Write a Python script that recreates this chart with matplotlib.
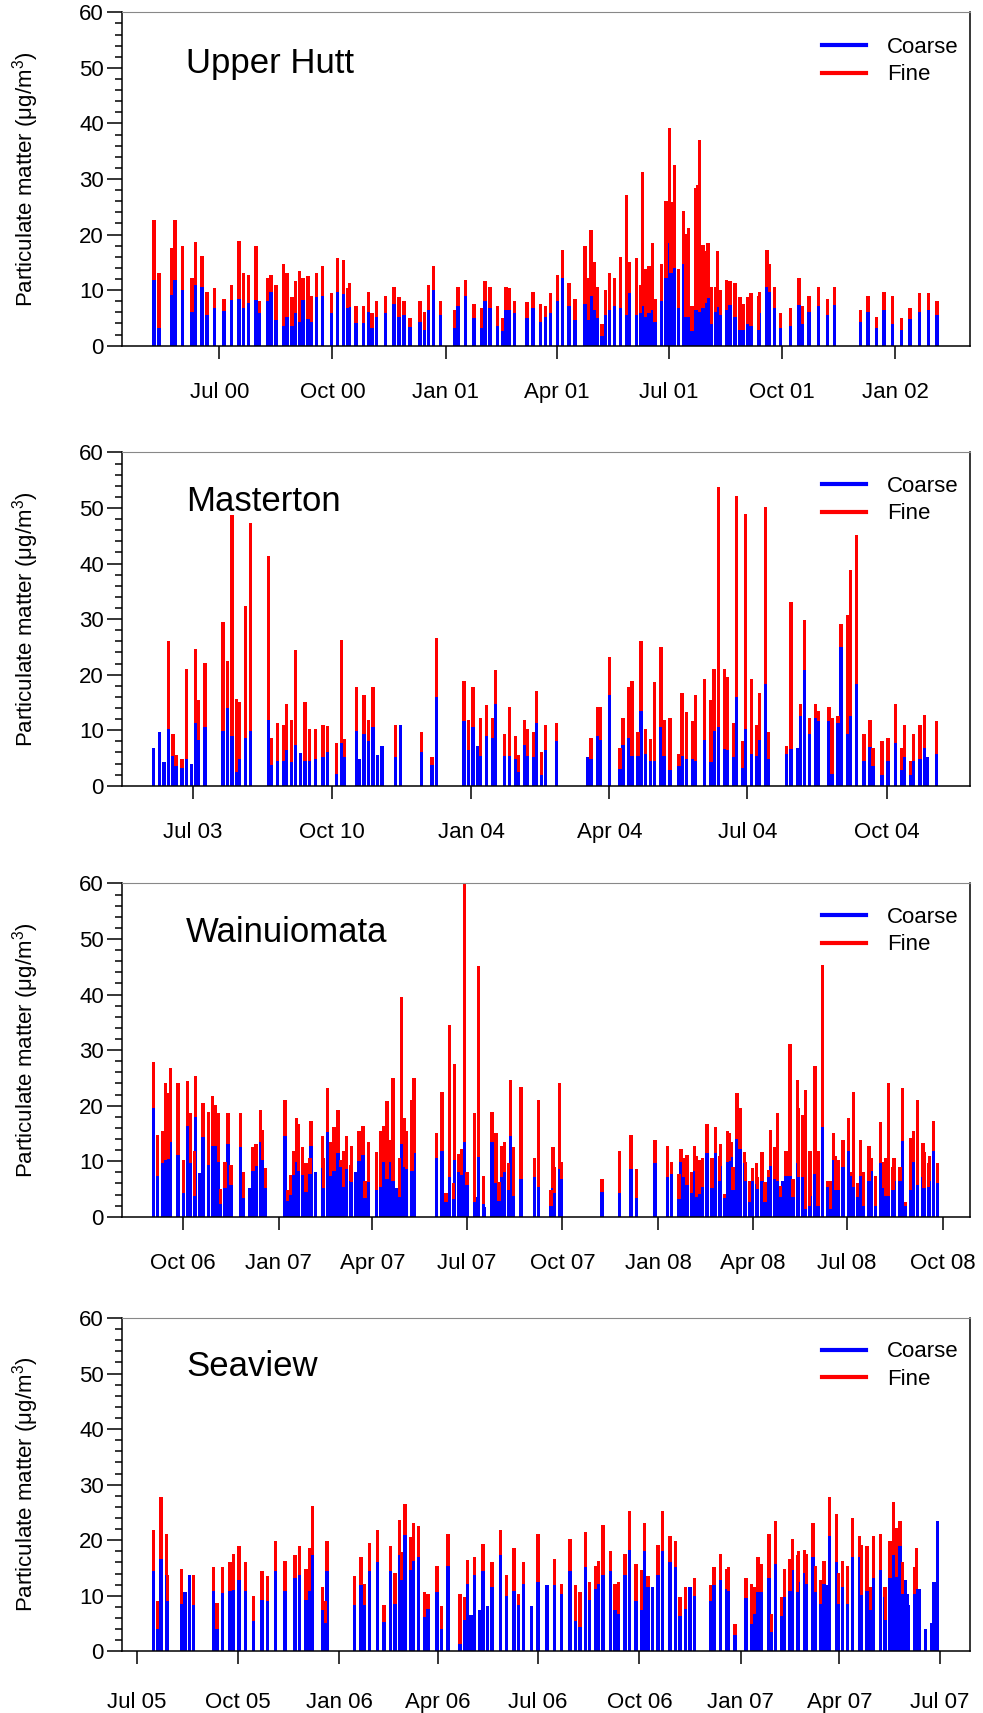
import matplotlib
matplotlib.use('Agg')
import matplotlib.pyplot as plt
import matplotlib.dates as mdates
from matplotlib.lines import Line2D
import numpy as np
from datetime import datetime

plt.rcParams['font.family'] = ['Liberation Sans', 'DejaVu Sans']
plt.rcParams['mathtext.fontset'] = 'custom'
plt.rcParams['mathtext.rm'] = 'Liberation Sans'
plt.rcParams['mathtext.it'] = 'Liberation Sans:italic'
plt.rcParams['mathtext.default'] = 'regular'

# ---------------- data ----------------
# Upper Hutt (days since 1 Jul 2000)
uh_days = [-53,-49,-39,-36,-30,-22,-19,-14,-10,-4,
           4,10,16,20,24,30,33,39,42,46,
           52,55,59,62,65,68,72,75,79,84,
           91,96,101,104,106,111,117,121,124,128,
           135,142,146,150,155,163,167,170,174,180,
           191,194,200,207,213,216,220,226,230,233,
           236,240,250,255,261,265,269,275,279,284,
           289,297,300,302,305,307,311,314,317,321,
           326,331,333,339,342,344,346,349,352,354,
           359,363,366,367,370,373,377,379,381,384,
           387,389,390,393,395,397,400,403,405,407,
           412,415,419,423,426,429,432,438,439,445,
           447,451,456,464,471,474,479,487,494,500,
           521,527,534,540,547,554,561,569,576,583]
uh_total = [22.7,13.1,17.6,22.7,17.9,12.2,18.6,16.1,9.7,10.3,
            8.4,11.0,18.9,13.1,12.8,17.9,8.1,12.2,12.8,11.0,
            14.7,13.1,8.7,11.6,13.5,12.2,12.5,9.0,13.1,14.4,
            9.4,15.7,15.4,10.3,11.3,7.1,7.1,9.7,5.9,8.1,
            9.0,10.6,8.7,8.1,4.9,8.1,6.1,10.9,14.4,8.1,
            6.5,10.6,11.9,7.5,6.8,11.6,10.6,7.1,4.9,10.6,
            10.3,8.1,7.8,9.6,7.5,7.1,9.4,12.8,17.3,11.3,
            8.4,17.9,12.2,20.8,15.0,10.6,3.9,10.0,13.1,12.2,
            16.0,27.1,15.0,15.7,11.0,31.2,13.8,14.4,18.5,8.4,
            14.7,26.1,39.1,25.9,32.5,13.8,24.2,20.1,21.1,7.1,
            28.4,29.0,37.0,18.2,17.0,18.5,10.6,10.6,17.0,10.0,
            11.9,11.6,11.3,8.7,7.5,8.7,9.4,9.0,9.7,17.3,
            14.7,10.6,5.9,6.8,12.2,7.1,9.0,10.6,8.4,10.6,
            6.5,9.0,5.2,9.6,9.0,4.9,6.8,9.4,9.4,8.1]
uh_coarse = [11.8,3.2,9.1,11.8,10.0,6.1,10.9,10.6,5.5,6.7,
             6.2,8.2,8.4,6.7,7.7,8.3,5.8,8.0,9.7,4.6,
             3.6,5.2,3.6,5.8,4.3,8.3,4.8,4.3,8.8,9.0,
             5.8,9.7,9.3,6.8,7.0,4.0,4.0,6.1,3.2,5.2,
             5.8,7.5,5.2,5.5,3.4,4.3,2.9,6.5,10.0,5.5,
             3.2,7.1,9.0,4.9,3.2,8.0,6.7,3.6,2.6,6.5,
             6.5,5.8,4.9,6.7,4.3,5.2,5.8,8.0,12.1,7.1,
             4.6,7.5,4.6,9.0,6.5,4.9,1.7,5.5,6.5,7.1,
             6.7,5.5,9.4,5.5,5.8,7.1,5.2,5.8,6.4,4.3,
             8.0,12.1,18.4,13.0,14.0,6.7,14.7,5.1,5.1,2.6,
             6.4,6.4,6.1,6.7,7.6,8.6,3.9,6.1,7.0,5.5,
             6.4,7.3,5.2,2.9,2.9,3.9,3.6,2.9,5.8,10.6,
             9.7,6.7,3.2,3.6,7.3,3.9,6.1,7.1,5.5,7.3,
             4.2,6.1,3.2,6.5,3.9,2.9,4.8,6.1,6.4,5.5]

# Masterton (days since 1 Jul 2003)
ma_days = [-26,-22,-19,-16,-13,-11,-7,-4,-1,2,
           4,8,20,23,26,29,31,35,38,50,
           52,56,60,62,65,68,71,74,77,81,
           86,89,95,98,100,108,110,113,116,119,
           122,125,134,137,151,158,161,179,182,185,
           188,190,194,198,200,206,209,213,215,219,
           221,225,227,230,233,240,261,263,267,269,
           275,282,284,288,290,294,296,299,302,305,
           309,311,315,321,323,326,330,332,338,342,
           344,347,351,353,357,359,363,365,369,372,
           374,378,380,392,395,399,401,404,407,411,
           413,420,422,426,428,432,434,438,443,447,
           449,455,459,464,468,470,474,476,480,483,
           485,491]
ma_total = [6.8,9.6,4.2,26.0,9.3,5.5,4.9,21.1,3.9,24.7,
            15.4,22.1,29.5,22.4,48.7,15.7,15.1,32.3,47.3,41.3,
            8.6,11.3,11.0,14.8,11.9,24.4,5.9,15.1,10.3,10.3,
            11.0,10.7,7.7,26.3,8.4,17.7,4.9,16.3,11.9,17.7,
            5.5,7.1,11.0,11.0,9.6,5.2,26.6,18.9,11.9,17.7,
            7.1,12.2,14.5,12.2,20.8,9.3,14.2,9.0,5.5,11.9,
            10.3,9.6,17.0,6.1,11.0,11.3,5.2,8.6,14.2,14.2,
            23.1,6.8,12.2,17.7,18.9,9.6,26.0,10.3,8.4,18.6,
            25.0,11.9,12.2,5.8,16.7,13.2,11.6,16.3,19.3,15.4,
            21.1,53.8,21.1,19.6,11.3,52.2,8.0,48.9,19.3,11.0,
            16.7,50.2,9.6,7.1,33.0,6.8,14.8,29.8,12.2,14.8,
            13.5,14.2,12.2,12.5,29.2,30.8,38.8,45.1,9.3,11.9,
            6.8,8.0,8.6,14.8,6.8,11.0,4.5,9.3,11.0,12.8,
            5.1,11.6]
ma_coarse = [6.8,9.6,4.2,10.2,5.4,3.5,3.2,4.8,3.9,11.3,
             8.3,10.6,9.9,14.0,8.9,2.5,4.8,8.6,9.9,11.9,
             3.8,4.5,4.4,6.4,4.2,7.3,5.9,4.5,4.5,4.8,
             5.1,6.0,2.2,7.7,5.1,9.9,4.9,9.3,8.0,10.6,
             5.5,7.1,5.1,11.0,6.0,3.8,16.0,11.6,6.4,10.6,
             7.1,5.4,8.9,8.6,14.8,5.4,5.4,4.8,2.5,7.3,
             5.4,5.1,11.3,2.0,6.4,8.0,5.2,4.8,8.9,8.3,
             16.3,3.1,7.3,8.6,5.4,5.4,13.5,5.7,4.5,4.5,
             10.6,5.4,2.9,3.5,5.4,4.8,4.8,4.5,8.3,4.2,
             9.9,10.6,6.7,6.4,5.1,16.0,3.2,10.3,5.7,5.4,
             8.3,18.3,4.8,5.7,6.7,6.8,12.5,20.8,9.3,12.2,
             11.6,11.6,2.2,11.3,24.9,9.3,12.5,18.4,4.5,6.9,
             3.5,1.9,4.5,7.7,2.9,5.1,1.9,4.5,4.8,6.8,
             5.1,5.7]

# Wainuiomata (days since 1 Oct 2006)
wa_days = [-29,-25,-20,-17,-14,-12,-5,0,4,7,
           11,12,16,19,24,28,31,34,36,40,
           43,46,55,58,64,67,70,74,76,79,
           98,100,103,106,109,111,115,118,122,123,
           127,134,135,139,142,145,149,151,154,157,
           161,162,166,169,173,175,178,186,190,193,
           196,198,202,205,208,210,213,215,220,222,
           244,249,253,256,260,261,265,268,271,273,
           280,282,284,289,290,297,301,304,306,309,
           313,315,318,325,338,342,354,356,357,362,
           364,403,420,431,436,454,466,470,477,479,
           482,485,489,492,494,497,500,504,509,512,
           516,517,521,524,526,528,529,533,536,540,
           541,545,548,552,553,557,560,563,565,569,
           572,575,577,580,584,587,591,592,596,599,
           603,604,608,611,615,620,623,626,628,631,
           635,640,643,645,649,652,655,660,662,666,
           671,674,676,679,683,684,690,692,695,700,
           703,707,712,713,717,718,722,726]
wa_total = [27.9,14.8,15.4,24.1,22.2,26.7,24.1,10.3,24.4,18.6,
            11.9,25.3,7.8,20.5,18.9,21.8,20.2,18.6,5.0,9.9,
            18.6,9.3,18.6,8.0,5.2,12.5,13.1,19.3,15.7,8.7,
            21.1,4.9,7.5,11.9,17.7,16.7,12.5,9.6,10.6,17.3,
            8.1,14.5,10.6,23.1,13.5,16.1,19.3,10.3,11.9,14.5,
            9.3,12.8,8.0,15.4,16.4,6.5,13.5,11.6,15.4,16.4,
            20.8,13.9,25.0,5.2,10.6,39.6,17.7,15.4,21.1,25.0,
            15.1,22.4,4.2,34.6,6.1,27.5,11.3,12.2,62.0,8.0,
            18.6,3.5,45.1,7.4,1.7,18.9,15.1,6.2,12.8,13.5,
            9.6,24.6,12.5,23.4,10.6,21.1,4.9,12.5,9.0,24.0,
            9.9,6.8,11.9,14.8,8.6,13.9,12.8,9.9,7.7,12.2,
            10.6,11.1,8.0,12.8,11.0,10.3,10.6,16.7,10.6,16.1,
            11.0,13.1,4.1,15.4,15.1,13.5,9.0,22.2,19.6,11.6,
            9.9,6.5,8.7,9.6,7.1,11.6,6.2,8.4,15.7,12.5,
            18.6,5.5,6.5,11.9,31.1,6.8,24.6,19.6,18.3,22.8,
            11.9,11.9,27.2,11.9,45.4,6.5,6.5,15.1,11.0,10.3,
            13.9,17.7,8.0,22.4,6.1,13.9,8.0,12.8,10.6,7.4,
            17.0,9.9,10.6,24.0,9.0,10.6,9.0,23.1,2.6,14.2,
            15.4,21.1,13.2,11.6,9.6,11.0,17.3,9.6]
wa_coarse = [19.5,7.4,9.6,10.2,10.4,13.4,11.2,4.2,16.3,9.6,
             3.8,18.0,7.8,14.3,9.3,12.8,12.8,9.9,2.3,5.2,
             13.1,5.7,12.5,3.3,5.2,8.3,9.2,13.4,10.2,5.2,
             14.5,2.9,3.9,7.6,9.9,8.3,7.6,4.5,7.7,12.8,
             8.1,8.7,5.2,15.2,7.4,8.3,11.4,8.9,5.4,8.6,
             6.5,6.3,8.0,10.1,11.1,3.3,6.3,4.9,5.4,9.9,
             6.8,9.9,6.4,5.2,3.5,13.1,8.9,8.6,8.3,11.4,
             10.6,11.8,2.6,7.1,3.2,10.2,8.0,7.6,13.4,5.7,
             2.6,3.5,10.8,2.3,1.7,13.4,6.1,2.9,7.1,8.0,
             4.8,14.5,3.8,6.8,7.1,5.4,2.0,5.1,4.2,8.6,
             6.8,4.5,4.2,8.6,3.3,9.6,7.1,7.7,3.2,9.9,
             7.1,5.7,4.2,8.3,3.5,4.1,5.4,11.4,5.1,11.4,
             6.5,9.2,3.3,9.9,10.1,10.8,4.8,14.0,12.2,9.6,
             6.5,2.6,6.5,5.9,5.0,6.5,2.6,7.1,9.2,6.8,
             6.5,3.5,6.5,7.4,7.4,3.5,9.6,7.1,7.1,1.4,
             2.0,3.8,7.7,2.0,16.1,5.3,1.4,10.2,4.8,4.8,
             8.9,11.9,7.4,5.4,3.5,7.4,2.0,6.5,8.3,2.0,
             9.6,5.1,3.8,3.8,4.8,6.5,6.5,13.7,2.0,4.8,
             9.9,5.7,7.1,5.1,5.3,6.5,11.9,6.0]

# Seaview (days since 1 Jul 2005)
se_days = [15,19,22,27,28,41,44,48,52,70,
           73,78,85,88,93,99,106,114,119,126,
           135,144,148,154,157,160,169,172,173,198,
           204,207,212,219,225,231,235,239,241,244,
           249,252,256,262,265,273,277,283,294,298,
           301,304,307,312,315,319,323,331,336,343,
           347,352,359,365,373,380,386,394,399,403,
           408,412,417,420,424,431,435,438,444,448,
           454,459,462,465,469,474,478,485,490,494,
           499,503,507,522,525,531,536,538,544,554,
           559,562,565,568,575,577,581,586,589,594,
           596,601,602,607,609,615,617,622,625,628,
           630,636,638,642,646,651,657,659,664,667,
           670,676,680,681,685,688,691,694,696,699,
           701,702,707,709,710,712,717,723,725,728]
se_total = [21.8,9.1,27.8,21.1,13.8,14.8,10.7,13.8,13.8,15.1,
            8.7,15.1,16.0,17.6,18.9,16.0,10.0,14.4,13.5,19.9,
            16.3,17.3,18.9,14.8,18.6,26.2,11.6,9.0,19.9,13.5,
            17.0,12.2,19.5,21.8,8.4,18.9,14.1,23.7,17.9,26.6,
            20.6,23.1,22.5,10.7,10.3,15.4,8.1,21.2,10.3,9.7,
            16.4,6.6,17.0,7.5,19.3,8.1,16.0,21.8,13.8,18.6,
            10.3,16.0,8.1,21.2,11.9,16.7,12.2,20.2,11.9,10.6,
            21.5,12.5,15.4,16.3,22.8,18.0,12.2,12.5,17.6,25.3,
            15.7,14.7,23.1,13.5,11.6,19.2,25.3,20.8,19.9,9.7,
            11.6,11.6,13.2,11.9,15.1,17.6,14.8,15.1,4.9,13.2,
            12.2,11.6,17.0,15.7,21.1,6.8,23.4,9.7,14.8,16.7,
            20.2,17.3,18.0,18.3,17.6,23.1,15.4,12.8,16.3,11.9,
            27.8,24.7,14.1,16.3,15.4,24.0,20.8,19.2,18.9,11.6,
            20.8,21.2,11.6,11.6,19.9,26.9,22.2,23.4,16.0,12.8,
            10.3,8.4,15.1,18.6,11.3,11.3,4.0,5.1,12.5,23.4]
se_coarse = [14.4,4.0,16.7,13.8,9.0,8.6,10.7,13.8,8.3,10.9,
             4.0,10.5,10.9,11.1,12.8,10.9,5.5,9.2,9.0,14.4,
             10.9,13.2,13.8,9.3,10.9,17.3,7.4,5.1,14.4,8.4,
             11.9,8.4,14.4,16.0,5.3,14.4,8.6,17.3,12.8,21.0,
             14.7,16.2,17.0,6.1,7.7,10.6,4.0,15.4,1.4,5.7,
             12.2,6.6,13.8,7.5,14.4,8.1,11.6,17.3,10.0,10.9,
             8.4,12.2,8.1,12.5,11.9,11.9,10.3,14.4,5.5,4.3,
             15.1,9.3,11.3,12.2,13.8,14.4,7.4,6.8,13.8,18.3,
             9.0,7.4,18.0,11.6,11.6,13.8,18.0,16.0,15.1,6.4,
             7.7,11.6,10.0,9.0,11.9,12.8,11.3,10.9,2.9,9.6,
             4.9,6.8,10.6,10.6,13.2,3.5,15.7,6.4,9.7,10.9,
             14.7,10.6,12.5,14.1,12.2,17.0,10.6,8.6,12.2,11.9,
             20.8,16.0,8.6,11.6,8.6,17.0,17.0,10.2,10.9,7.4,
             13.2,14.7,9.7,5.7,13.2,17.3,13.4,18.9,10.3,12.8,
             10.3,8.4,10.3,11.3,11.3,11.3,4.0,5.1,12.5,23.4]

uh_ticks = ['2000-07-01','2000-10-01','2001-01-01','2001-04-01','2001-07-01','2001-10-01','2002-01-01']
uh_labels = ['Jul 00','Oct 00','Jan 01','Apr 01','Jul 01','Oct 01','Jan 02']
ma_ticks = ['2003-07-01','2003-10-01','2004-01-01','2004-04-01','2004-07-01','2004-10-01']
ma_labels = ['Jul 03','Oct 10','Jan 04','Apr 04','Jul 04','Oct 04']
wa_ticks = ['2006-10-01','2007-01-01','2007-04-01','2007-07-01','2007-10-01','2008-01-01','2008-04-01','2008-07-01','2008-10-01']
wa_labels = ['Oct 06','Jan 07','Apr 07','Jul 07','Oct 07','Jan 08','Apr 08','Jul 08','Oct 08']
se_ticks = ['2005-07-01','2005-10-01','2006-01-01','2006-04-01','2006-07-01','2006-10-01','2007-01-01','2007-04-01','2007-07-01']
se_labels = ['Jul 05','Oct 05','Jan 06','Apr 06','Jul 06','Oct 06','Jan 07','Apr 07','Jul 07']

site_names = ['Upper Hutt', 'Masterton', 'Wainuiomata', 'Seaview']

# ---------------- figure ----------------
def dnum(s):
    return mdates.date2num(datetime.strptime(s, '%Y-%m-%d'))

panels = [
    dict(name=site_names[0], ref='2000-07-01', days=uh_days, total=uh_total, coarse=uh_coarse,
         ticks=uh_ticks, labels=uh_labels, xlim=(dnum('2000-07-01') - 79.2, dnum('2002-01-01') + 60.6),
         width=2.7, bottom=0.7982, tyb=0.818, ly=0.927, xpad=17),
    dict(name=site_names[1], ref='2003-07-01', days=ma_days, total=ma_total, coarse=ma_coarse,
         ticks=ma_ticks, labels=ma_labels, xlim=(dnum('2003-07-01') - 46.9, dnum('2003-07-01') + 512.9),
         width=2.2, bottom=0.5413, tyb=0.825, ly=0.93, xpad=17),
    dict(name=site_names[2], ref='2006-10-01', days=wa_days, total=wa_total, coarse=wa_coarse,
         ticks=wa_ticks, labels=wa_labels, xlim=(dnum('2006-10-01') - 59.3, dnum('2006-10-01') + 757.0),
         width=3.2, bottom=0.2897, tyb=0.825, ly=0.93, xpad=17),
    dict(name=site_names[3], ref='2005-07-01', days=se_days, total=se_total, coarse=se_coarse,
         ticks=se_ticks, labels=se_labels, xlim=(dnum('2005-07-01') - 13.6, dnum('2005-07-01') + 757.4),
         width=3.0, bottom=0.0360, tyb=0.825, ly=0.93, xpad=20),
]

BLUE = '#0000ff'
RED = '#ff0000'

fig = plt.figure(figsize=(9.83, 17.13), dpi=100)
for p in panels:
    ax = fig.add_axes([0.1238, p['bottom'], 0.8627, 0.1946])
    x = dnum(p['ref']) + np.array(p['days'], dtype=float)
    coarse = np.array(p['coarse'])
    fine = np.array(p['total']) - coarse
    ax.bar(x, coarse, width=p['width'], color=BLUE, linewidth=0, align='center')
    ax.bar(x, fine, bottom=coarse, width=p['width'], color=RED, linewidth=0, align='center')
    ax.set_xlim(*p['xlim'])
    ax.set_ylim(0, 60)
    ax.set_yticks(np.arange(0, 61, 10))
    ax.set_yticks(np.arange(0, 61, 2), minor=True)
    ax.set_xticks([dnum(t) for t in p['ticks']])
    ax.set_xticklabels(p['labels'])
    ax.tick_params(axis='y', which='major', length=10.8, width=1.1, direction='out', labelsize=16, pad=2)
    ax.tick_params(axis='y', which='minor', length=4.8, width=1.1, direction='out')
    ax.tick_params(axis='x', which='major', length=9.4, width=1.1, direction='out', labelsize=16, pad=p['xpad'])
    ax.tick_params(axis='x', which='minor', length=0)
    for s in ['left', 'bottom', 'right']:
        ax.spines[s].set_linewidth(1.1)
    ax.spines['top'].set_linewidth(0.8)
    ax.spines['top'].set_color('#888888')
    ax.set_ylabel('Particulate matter (\u03bcg/m$^{3}$)', fontsize=16)
    ax.yaxis.set_label_coords(-0.095, 0.5)
    ax.text(0.0758, p['tyb'], p['name'], transform=ax.transAxes, fontsize=25, va='baseline', ha='left')
    handles = [Line2D([], [], color=BLUE, lw=3), Line2D([], [], color=RED, lw=3)]
    ax.legend(handles, ['Coarse', 'Fine'], loc='upper left', bbox_to_anchor=(0.8255, p['ly']),
              frameon=False, borderpad=0, borderaxespad=0, handlelength=2.0,
              handletextpad=0.93, labelspacing=0.3, fontsize=16)

fig.savefig('out.png', dpi=100)
